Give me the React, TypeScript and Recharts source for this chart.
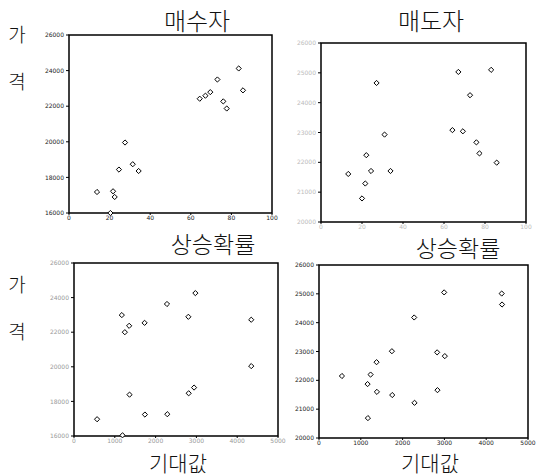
import { ScatterChart, Scatter, XAxis, YAxis, ReferenceArea } from 'recharts';

// 매수자 vs 상승확률
const buyerProbX = [13.8, 21.7, 22.5, 20.4, 24.6, 27.6, 31.4, 34.3, 64.4, 67.2, 69.6, 73.1, 76.0, 77.7, 83.6, 85.7];
const buyerProbY = [17180, 17220, 16900, 16000, 18440, 19960, 18740, 18360, 22420, 22590, 22790, 23500, 22270, 21870, 24120, 22890];

// 매도자 vs 상승확률
const sellerProbX = [13.3, 20.0, 21.6, 22.1, 24.4, 27.1, 31.0, 33.9, 64.1, 67.0, 69.2, 72.7, 75.8, 77.3, 83.0, 85.7];
const sellerProbY = [21610, 20790, 21290, 22240, 21710, 24660, 22930, 21710, 23080, 25030, 23040, 24250, 22670, 22300, 25100, 21990];

// 매수자 vs 기대값
const buyerEvX = [566, 1189, 1172, 1246, 1352, 1361, 1730, 1738, 2279, 2287, 2803, 2811, 2943, 2975, 4344, 4344];
const buyerEvY = [16970, 16040, 22990, 22000, 22370, 18390, 22540, 17240, 23630, 17260, 22890, 18470, 18800, 24260, 22720, 20040];

// 매도자 vs 기대값
const sellerEvX = [549, 1162, 1170, 1234, 1377, 1385, 1744, 1752, 2277, 2285, 2826, 2834, 2994, 3010, 4371, 4379];
const sellerEvY = [22150, 21870, 20690, 22200, 22630, 21600, 23010, 21490, 24180, 21220, 22970, 21660, 25050, 22840, 25010, 24630];

const probTicks = [0, 20, 40, 60, 80, 100];
const evTicks = [0, 1000, 2000, 3000, 4000, 5000];
const buyerPriceTicks = [16000, 18000, 20000, 22000, 24000, 26000];
const sellerPriceTicks = [20000, 21000, 22000, 23000, 24000, 25000, 26000];

const zip = (xs: number[], ys: number[]) => xs.map((x, i) => ({ x, y: ys[i] }));

// small open diamond at the point the library computed
const Diamond = (props: any) => {
  const { cx, cy } = props;
  if (cx == null || cy == null) return null;
  const r = 2.6;
  return (
    <path
      d={`M${cx},${cy - r}L${cx + r},${cy}L${cx},${cy + r}L${cx - r},${cy}Z`}
      fill="#fff"
      stroke="#000"
      strokeWidth={1}
    />
  );
};

interface PanelProps {
  data: { x: number; y: number }[];
  xTicks: number[];
  yTicks: number[];
  box: { left: number; top: number; right: number; bottom: number };
  labelColor: string;
}

function Panel({ data, xTicks, yTicks, box, labelColor }: PanelProps) {
  const yw = 32;
  const padT = 6;
  const padR = 12;
  const xh = 14;
  const xMin = xTicks[0], xMax = xTicks[xTicks.length - 1];
  const yMin = yTicks[0], yMax = yTicks[yTicks.length - 1];
  const tick = { fill: labelColor, fontSize: 6, fontFamily: 'DejaVu Sans' };
  return (
    <div style={{ position: 'absolute', left: box.left - yw, top: box.top - padT }}>
      <ScatterChart
        width={box.right - box.left + yw + padR}
        height={box.bottom - box.top + padT + xh}
        margin={{ top: padT, right: padR, left: 0, bottom: 0 }}
      >
        <XAxis
          type="number"
          dataKey="x"
          domain={[xMin, xMax]}
          ticks={xTicks}
          height={xh}
          axisLine={false}
          tickLine={{ stroke: '#000' }}
          tickSize={2}
          tickMargin={1}
          tick={tick}
        />
        <YAxis
          type="number"
          dataKey="y"
          domain={[yMin, yMax]}
          ticks={yTicks}
          width={yw}
          axisLine={false}
          tickLine={{ stroke: '#000' }}
          tickSize={3}
          tick={tick}
        />
        <ReferenceArea x1={xMin} x2={xMax} y1={yMin} y2={yMax} fill="none" fillOpacity={0} stroke="#000" strokeWidth={1.5} />
        <Scatter data={data} shape={<Diamond />} isAnimationActive={false} />
      </ScatterChart>
    </div>
  );
}

const label = (text: string, cx: number, cy: number, size: number) => (
  <div
    style={{
      position: 'absolute',
      left: cx,
      top: cy,
      transform: 'translate(-50%, -50%)',
      fontFamily: '"Noto Sans CJK KR"',
      fontSize: size,
      lineHeight: 1,
      whiteSpace: 'nowrap',
      color: '#111',
      fontWeight: 300,
    }}
  >
    {text}
  </div>
);

export default function App() {
  return (
    <div style={{ position: 'absolute', left: 0, top: 0, width: 536, height: 476, background: '#fff', overflow: 'hidden' }}>
      <Panel data={zip(buyerProbX, buyerProbY)} xTicks={probTicks} yTicks={buyerPriceTicks}
        box={{ left: 69, top: 35, right: 272, bottom: 213 }} labelColor="#222" />
      <Panel data={zip(sellerProbX, sellerProbY)} xTicks={probTicks} yTicks={sellerPriceTicks}
        box={{ left: 321, top: 43, right: 526, bottom: 222 }} labelColor="#bbb" />
      <Panel data={zip(buyerEvX, buyerEvY)} xTicks={evTicks} yTicks={buyerPriceTicks}
        box={{ left: 74, top: 263, right: 278, bottom: 436 }} labelColor="#999" />
      <Panel data={zip(sellerEvX, sellerEvY)} xTicks={evTicks} yTicks={sellerPriceTicks}
        box={{ left: 319, top: 265, right: 528, bottom: 438 }} labelColor="#222" />

      {label('매수자', 197, 20, 24)}
      {label('매도자', 431, 20, 24)}
      {label('가', 17, 33, 19)}
      {label('격', 17, 80, 19)}
      {label('가', 17, 283, 19)}
      {label('격', 17, 330, 19)}
      {label('상승확률', 213, 243, 23)}
      {label('상승확률', 458, 247, 23)}
      {label('기대값', 178, 462, 21)}
      {label('기대값', 430, 462, 21)}
    </div>
  );
}
